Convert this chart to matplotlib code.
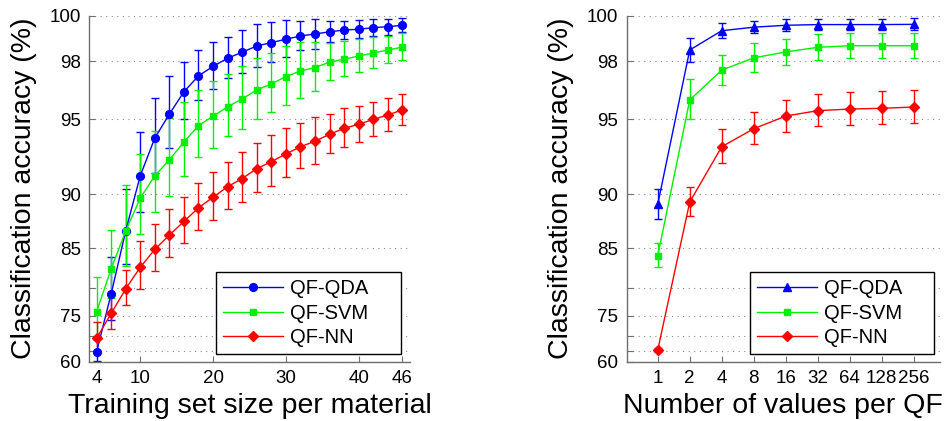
import numpy as np
import matplotlib
matplotlib.use("Agg")
import matplotlib.pyplot as plt

plt.rcParams['font.family'] = ['Liberation Sans', 'DejaVu Sans']

# ---------------- data ----------------
train_sizes = [4, 6, 8, 10, 12, 14, 16, 18, 20, 22, 24, 26, 28, 30, 32, 34, 36, 38, 40, 42, 44, 46]
qda_mean = [64.7, 79.0, 86.8, 91.4, 93.9, 95.3, 96.5, 97.3, 97.76, 98.14, 98.42, 98.7, 98.85, 99.0,
            99.14, 99.23, 99.32, 99.4, 99.43, 99.5, 99.54, 99.6]
qda_std = [4.5, 5.0, 3.6, 2.85, 2.3, 2.0, 1.45, 1.23, 1.1, 0.96, 1.0, 0.95, 0.9, 0.82,
           0.63, 0.65, 0.45, 0.4, 0.39, 0.35, 0.34, 0.29]
svm_mean = [75.8, 82.6, 86.8, 89.7, 91.4, 92.5, 93.66, 94.64, 95.18, 95.7, 96.13, 96.59, 96.9, 97.26,
            97.54, 97.7, 97.96, 98.1, 98.24, 98.38, 98.52, 98.65]
svm_std = [5.7, 4.3, 3.9, 3.2, 2.9, 2.6, 2.3, 1.96, 1.87, 1.7, 1.67, 1.56, 1.48, 1.44,
           1.34, 1.17, 0.86, 0.8, 0.77, 0.72, 0.62, 0.6]
nn_mean = [69.4, 75.5, 79.8, 82.8, 84.9, 86.4, 87.7, 88.9, 89.77, 90.59, 91.2, 91.9, 92.38, 92.89,
           93.36, 93.7, 94.13, 94.48, 94.72, 95.0, 95.25, 95.53]
nn_std = [4.2, 3.4, 2.6, 3.0, 2.6, 2.4, 2.1, 2.0, 1.9, 1.8, 1.84, 1.68, 1.7, 1.59,
          1.42, 1.45, 1.17, 1.14, 1.04, 0.98, 0.94, 0.84]

qf_values = [1, 2, 4, 8, 16, 32, 64, 128, 256]
qda_r_mean = [89.19, 98.52, 99.37, 99.52, 99.6, 99.63, 99.63, 99.63, 99.64]
qda_r_std = [1.23, 0.55, 0.32, 0.27, 0.25, 0.25, 0.25, 0.25, 0.25]
svm_r_mean = [84.2, 96.07, 97.58, 98.16, 98.43, 98.64, 98.71, 98.71, 98.71]
svm_r_std = [1.38, 1.07, 0.73, 0.69, 0.6, 0.57, 0.57, 0.57, 0.55]
nn_r_mean = [65.4, 89.38, 93.36, 94.46, 95.19, 95.49, 95.58, 95.62, 95.69]
nn_r_std = [0.6, 1.2, 1.08, 0.95, 0.9, 0.88, 0.9, 0.9, 0.9]

series_names = ['QF-QDA', 'QF-SVM', 'QF-NN']
y_ticks = [60, 65, 70, 75, 80, 85, 90, 95, 98, 100]
y_tick_labels = ['60', '', '', '75', '', '85', '90', '95', '98', '100']
left_xticks = [4, 10, 20, 30, 40, 46]

# ---------------- style ----------------
colors = ['#0000ff', '#00f000', '#ff0000']
left_markers = ['o', 's', 'D']
right_markers = ['^', 's', 'D']
msizes = {'o': 5.6, 's': 5.0, 'D': 4.8, '^': 5.8}

K = 0.065
def fwd(v):
    return np.exp(K * np.asarray(v, dtype=float))
def inv(v):
    return np.log(np.clip(np.asarray(v, dtype=float), 1e-12, None)) / K

W, H = 948, 421
fig = plt.figure(figsize=(W / 100, H / 100), dpi=100)
y0 = 1 - 361.7 / H
hgt = (361.7 - 15.7) / H
ax1 = fig.add_axes([89.3 / W, y0, (409.6 - 89.3) / W, hgt])
ax2 = fig.add_axes([626.7 / W, y0, (940.0 - 626.7) / W, hgt])

def style_axes(ax):
    ax.set_yscale('function', functions=(fwd, inv))
    ax.set_ylim(60, 100)
    ax.set_yticks(y_ticks)
    ax.set_yticklabels(y_tick_labels)
    ax.minorticks_off()
    for s in ['top', 'right']:
        ax.spines[s].set_visible(False)
    for s in ['left', 'bottom']:
        ax.spines[s].set_color('#6e6e6e')
        ax.spines[s].set_linewidth(1.0)
    ax.tick_params(direction='in', length=4, width=0.8, color='#6e6e6e',
                   labelsize=13.5, pad=6)
    ax.yaxis.grid(True, linestyle=(0, (1, 4)), color='#8c8c8c', linewidth=0.8)
    ax.xaxis.grid(False)
    ax.set_axisbelow(True)
    ax.set_ylabel('Classification accuracy (%)', fontsize=20.5, labelpad=9)

def add_legend(ax, x0, w):
    leg = ax.legend(loc='lower left', bbox_to_anchor=(x0, 0.0214, w, 0.236), mode='expand',
                    borderaxespad=0, fontsize=14.5, handlelength=3.0, labelspacing=0.28,
                    fancybox=False, edgecolor='black', framealpha=1, borderpad=0.34,
                    handletextpad=0.35)
    leg.get_frame().set_linewidth(1.0)
    return leg

# left panel
left_means = [qda_mean, svm_mean, nn_mean]
left_stds = [qda_std, svm_std, nn_std]
for m, s, c, mk, name in zip(left_means, left_stds, colors, left_markers, series_names):
    ax1.errorbar(train_sizes, m, yerr=s, fmt='none', ecolor=c, elinewidth=1.0,
                 capsize=3, capthick=1.0, zorder=2)
    ax1.plot(train_sizes, m, color=c, marker=mk, markersize=msizes[mk], lw=1.0,
             markeredgecolor=c, label=name, zorder=3)
style_axes(ax1)
ax1.set_xlim(3, 47)
ax1.set_xticks(left_xticks)
ax1.set_xlabel('Training set size per material', fontsize=20.5, labelpad=4)
add_legend(ax1, 0.3956, 0.5776)

# right panel
right_means = [qda_r_mean, svm_r_mean, nn_r_mean]
right_stds = [qda_r_std, svm_r_std, nn_r_std]
for m, s, c, mk, name in zip(right_means, right_stds, colors, right_markers, series_names):
    ax2.errorbar(qf_values, m, yerr=s, fmt='none', ecolor=c, elinewidth=1.0,
                 capsize=3, capthick=1.0, zorder=2)
    ax2.plot(qf_values, m, color=c, marker=mk, markersize=msizes[mk], lw=1.0,
             markeredgecolor=c, label=name, zorder=3)
ax2.set_xscale('log', base=2)
style_axes(ax2)
ax2.set_xlim(2 ** -0.97, 2 ** 8.82)
ax2.set_xticks(qf_values)
ax2.set_xticklabels([str(v) for v in qf_values])
ax2.minorticks_off()
ax2.set_xlabel('Number of values per QF', fontsize=20.5, labelpad=4)
add_legend(ax2, 0.3936, 0.587)

fig.savefig('out.png', dpi=100)
